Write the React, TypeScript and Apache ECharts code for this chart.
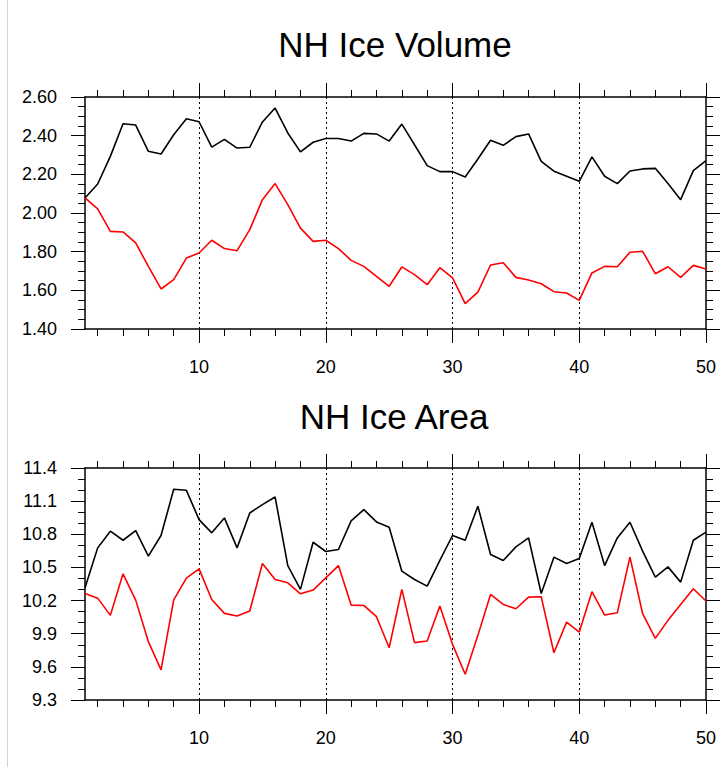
import React, { useEffect, useRef } from "react";
import * as echarts from "echarts";

// ---- data ----
const years = [
  1, 2, 3, 4, 5, 6, 7, 8, 9, 10,
  11, 12, 13, 14, 15, 16, 17, 18, 19, 20,
  21, 22, 23, 24, 25, 26, 27, 28, 29, 30,
  31, 32, 33, 34, 35, 36, 37, 38, 39, 40,
  41, 42, 43, 44, 45, 46, 47, 48, 49, 50,
];

const volumeBlack = [
  2.078, 2.150, 2.293, 2.462, 2.455, 2.319, 2.305, 2.405, 2.488, 2.472,
  2.341, 2.381, 2.336, 2.340, 2.471, 2.543, 2.414, 2.316, 2.366, 2.385,
  2.385, 2.372, 2.412, 2.409, 2.372, 2.460, 2.353, 2.245, 2.214, 2.214,
  2.186, 2.279, 2.376, 2.350, 2.395, 2.409, 2.267, 2.216, 2.190, 2.164,
  2.290, 2.190, 2.152, 2.217, 2.228, 2.231, 2.152, 2.069, 2.219, 2.271,
];

const volumeRed = [
  2.078, 2.021, 1.905, 1.902, 1.845, 1.724, 1.607, 1.655, 1.767, 1.793,
  1.859, 1.816, 1.805, 1.914, 2.069, 2.152, 2.043, 1.922, 1.853, 1.859,
  1.816, 1.755, 1.724, 1.672, 1.621, 1.721, 1.681, 1.629, 1.717, 1.664,
  1.531, 1.591, 1.731, 1.743, 1.667, 1.653, 1.634, 1.593, 1.586, 1.548,
  1.690, 1.724, 1.722, 1.797, 1.802, 1.686, 1.722, 1.667, 1.729, 1.710,
];

const areaBlack = [
  10.316, 10.677, 10.828, 10.746, 10.834, 10.602, 10.789, 11.207, 11.198, 10.933,
  10.813, 10.948, 10.677, 10.993, 11.069, 11.138, 10.517, 10.301, 10.728, 10.644,
  10.662, 10.921, 11.023, 10.912, 10.864, 10.466, 10.391, 10.331, 10.563, 10.789,
  10.746, 11.054, 10.617, 10.563, 10.686, 10.767, 10.264, 10.593, 10.536, 10.581,
  10.909, 10.517, 10.767, 10.909, 10.647, 10.412, 10.505, 10.367, 10.746, 10.819,
];

const areaRed = [
  10.264, 10.222, 10.066, 10.442, 10.204, 9.828, 9.572, 10.207, 10.403, 10.487,
  10.210, 10.084, 10.060, 10.105, 10.536, 10.391, 10.361, 10.261, 10.295, 10.406,
  10.517, 10.159, 10.156, 10.054, 9.773, 10.301, 9.819, 9.834, 10.150, 9.804,
  9.533, 9.885, 10.255, 10.165, 10.126, 10.231, 10.234, 9.728, 10.005, 9.915,
  10.280, 10.069, 10.090, 10.593, 10.081, 9.858, 10.021, 10.165, 10.307, 10.196,
];

const xLabelValues = [10, 20, 30, 40, 50];
const xMajorTicks = [10, 20, 30, 40, 50];
const xMinorTicks = [2, 4, 6, 8, 10, 12, 14, 16, 18, 20, 22, 24, 26, 28, 30, 32, 34, 36, 38, 40, 42, 44, 46, 48, 50];
const gridLineXs = [10, 20, 30, 40];

const titles = ["NH Ice Volume", "NH Ice Area"];
const volumeAxis = { min: 1.4, max: 2.6, interval: 0.2, minorSplit: 4, decimals: 2 };
const areaAxis = { min: 9.3, max: 11.4, interval: 0.3, minorSplit: 3, decimals: 1 };

// ---- chart ----
const FONT = "'Liberation Sans', Arial, Helvetica, sans-serif";
const BLACK = "#000000";
const RED = "#ff0000";

function pair(xs: number[], ys: number[]) {
  return xs.map((x, i) => [x, ys[i]]);
}

function makeXAxes(gridIndex: number) {
  const base = {
    type: "value",
    gridIndex,
    min: 1,
    max: 50,
    splitLine: { show: false },
  };
  return [
    {
      ...base,
      position: "bottom",
      axisLine: { show: true, onZero: false, lineStyle: { color: BLACK, width: 1.5 } },
      axisTick: { show: true, inside: false, customValues: xMinorTicks, length: 7, lineStyle: { color: BLACK, width: 1 } },
      axisLabel: {
        show: true,
        customValues: xLabelValues,
        margin: 29,
        fontSize: 18,
        color: BLACK,
        fontFamily: FONT,
      },
    },
    {
      ...base,
      position: "bottom",
      axisLine: { show: false, onZero: false },
      axisTick: { show: true, inside: false, customValues: xMajorTicks, length: 14, lineStyle: { color: BLACK, width: 1 } },
      axisLabel: { show: false },
    },
    {
      ...base,
      position: "top",
      axisLine: { show: true, onZero: false, lineStyle: { color: BLACK, width: 1.5 } },
      axisTick: { show: true, inside: false, customValues: xMinorTicks, length: 7, lineStyle: { color: BLACK, width: 1 } },
      axisLabel: { show: false },
    },
    {
      ...base,
      position: "top",
      axisLine: { show: false, onZero: false },
      axisTick: { show: true, inside: false, customValues: xMajorTicks, length: 14, lineStyle: { color: BLACK, width: 1 } },
      axisLabel: { show: false },
    },
  ];
}

function makeYAxes(gridIndex: number, cfg: typeof volumeAxis) {
  const base = {
    type: "value",
    gridIndex,
    min: cfg.min,
    max: cfg.max,
    interval: cfg.interval,
    axisLine: { show: true, onZero: false, lineStyle: { color: BLACK, width: 1.5 } },
    axisTick: { show: true, inside: false, length: 14, lineStyle: { color: BLACK, width: 1 } },
    minorTick: { show: true, splitNumber: cfg.minorSplit, length: 7, lineStyle: { color: BLACK, width: 1 } },
    splitLine: { show: false },
    minorSplitLine: { show: false },
  };
  return [
    {
      ...base,
      position: "left",
      axisLabel: {
        show: true,
        margin: 28,
        fontSize: 18,
        color: BLACK,
        fontFamily: FONT,
        formatter: (v: number) => v.toFixed(cfg.decimals),
      },
    },
    {
      ...base,
      position: "right",
      axisLabel: { show: false },
    },
  ];
}

function lineSeries(name: string, data: number[][], color: string, xAxisIndex: number, yAxisIndex: number, withGrid: boolean) {
  const s: any = {
    name,
    type: "line",
    xAxisIndex,
    yAxisIndex,
    data,
    showSymbol: false,
    symbol: "none",
    lineStyle: { color, width: 1.6 },
    itemStyle: { color },
    z: 3,
  };
  if (withGrid) {
    s.markLine = {
      silent: true,
      symbol: "none",
      label: { show: false },
      lineStyle: { color: BLACK, width: 1, type: [2, 3] },
      data: gridLineXs.map((x) => ({ xAxis: x })),
      z: 1,
    };
  }
  return s;
}

export default function App() {
  const ref = useRef<HTMLDivElement>(null);

  useEffect(() => {
    if (!ref.current) return;
    const chart = echarts.init(ref.current, null, { renderer: "svg" });
    const option: any = {
      animation: false,
      backgroundColor: "#ffffff",
      grid: [
        { left: 85, top: 97, width: 621, height: 232 },
        { left: 85, top: 468, width: 621, height: 232 },
      ],
      xAxis: [...makeXAxes(0), ...makeXAxes(1)],
      yAxis: [...makeYAxes(0, volumeAxis), ...makeYAxes(1, areaAxis)],
      series: [
        lineSeries("Volume black", pair(years, volumeBlack), BLACK, 0, 0, true),
        lineSeries("Volume red", pair(years, volumeRed), RED, 0, 0, false),
        lineSeries("Area black", pair(years, areaBlack), BLACK, 4, 2, true),
        lineSeries("Area red", pair(years, areaRed), RED, 4, 2, false),
      ],
      graphic: [
        {
          type: "text",
          x: 395,
          y: 44,
          style: {
            text: titles[0],
            fontSize: 35,
            fontFamily: FONT,
            fill: BLACK,
            textAlign: "center",
            textVerticalAlign: "middle",
          },
        },
        {
          type: "text",
          x: 394,
          y: 416,
          style: {
            text: titles[1],
            fontSize: 35,
            fontFamily: FONT,
            fill: BLACK,
            textAlign: "center",
            textVerticalAlign: "middle",
          },
        },
        {
          type: "line",
          shape: { x1: 7.5, y1: 0, x2: 7.5, y2: 767 },
          style: { stroke: "#d4d4d4", lineWidth: 1 },
          silent: true,
        },
      ],
    };
    chart.setOption(option);
    return () => {
      chart.dispose();
    };
  }, []);

  return (
    <div
      ref={ref}
      style={{ position: "fixed", left: 0, top: 0, width: 722, height: 767, background: "#fff" }}
    />
  );
}
